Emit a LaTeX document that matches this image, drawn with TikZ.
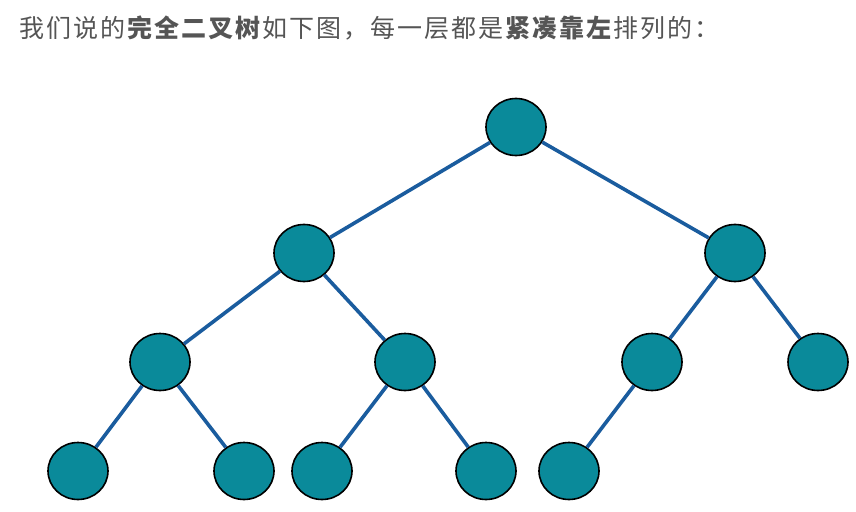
\documentclass[tikz,border=0pt]{standalone}
\usepackage{fontspec}
\usepackage{tikz}
\usetikzlibrary{shapes.geometric}
\newfontfamily\cjk[LetterSpace=8]{Noto Sans CJK SC}
\definecolor{nodefill}{HTML}{0A8A9A}
\definecolor{edgeblue}{HTML}{1A5C9E}
\definecolor{textgray}{HTML}{555555}

\begin{document}
\begin{tikzpicture}[x=1pt,y=-1pt,
  treenode/.style={ellipse,draw=black,line width=1.6pt,fill=nodefill,
    minimum width=60pt,minimum height=57pt,inner sep=0pt},
  treeedge/.style={draw=edgeblue,line width=3.6pt}]
\useasboundingbox (0,0) rectangle (856,511);

% caption line
\node[anchor=west,inner sep=0pt,text=textgray,font=\cjk\fontsize{25pt}{29pt}\selectfont]
  (cap) at (19,28) {我们说的\textbf{完全二叉树}如下图，每一层都是\textbf{紧凑靠左}排列的：};

% tree nodes, name/x/y
\foreach \n/\x/\y in {r/516/127,
  a/304/253, b/735/253,
  aa/160/362, ab/405/362, ba/652/362, bb/818/362,
  aaa/78/471, aab/244/471, aba/322/471, abb/486/471, baa/569/471}
{
\node[treenode] (\n) at (\x,\y) {};
}

% edges, parent/child
\foreach \p/\c in {r/a, r/b, a/aa, a/ab, b/ba, b/bb,
  aa/aaa, aa/aab, ab/aba, ab/abb, ba/baa}
{
\draw[treeedge] (\p) -- (\c);
}
\end{tikzpicture}
\end{document}
